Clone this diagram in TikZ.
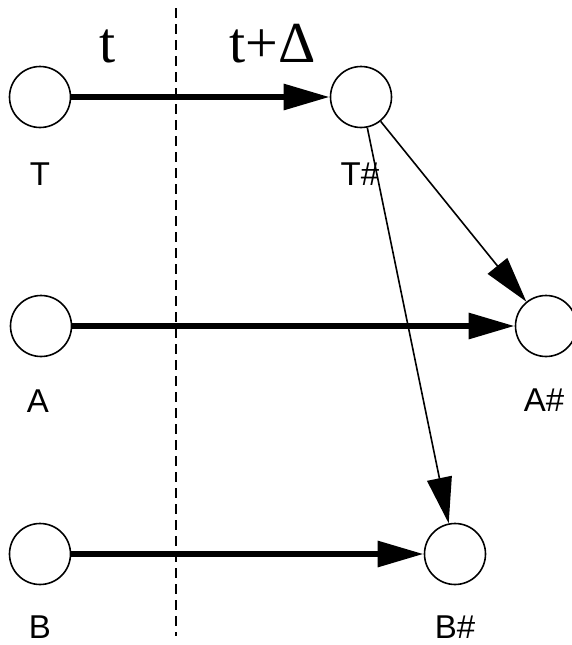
\documentclass[tikz,border=0pt]{standalone}
\usepackage{fontspec}
\newfontfamily\timefont{Liberation Serif}
\newfontfamily\labelfont{Liberation Sans}
\usetikzlibrary{arrows.meta,positioning}

\begin{document}
\begin{tikzpicture}[x=1pt,y=-1pt,
    state/.style={circle, draw, line width=1.6pt, minimum size=61pt, inner sep=0pt},
    lbl/.style={font=\labelfont\fontsize{33}{36}\selectfont, inner sep=0pt},
    stamp/.style={font=\timefont\fontsize{58}{62}\selectfont, inner sep=0pt},
    heavy/.style={line width=6pt, -{Triangle[length=46pt,width=25pt]}},
    light/.style={line width=1.6pt, -{Triangle[length=46pt,width=25pt]}}]
        \useasboundingbox (0,0) rectangle (571,645);
        % Time line
        \coordinate (top) at (176,8);
        \coordinate (bot) at (176,636);
        \draw[line width=1.6pt, dash pattern=on 10pt off 6pt] (top) -- (bot);
        \node[stamp, anchor=base] (now) at (108,62) {t};
        \node[stamp, anchor=base west] (later) at (229,62) {t+Δ};
        % States
        \node[state] (T) at (40,97) {};
        \node[state] (Th) at (361,97) {};
        \node[state] (A) at (41,326) {};
        \node[state] (Ah) at (546,326) {};
        \node[state] (B) at (40,554) {};
        \node[state] (Bh) at (455,554) {};
        % Labels
        \node[lbl] (lT) at (40,174) {T};
        \node[lbl] (lTh) at (360,174) {T\#};
        \node[lbl] (lA) at (38,401) {A};
        \node[lbl] (lAh) at (544,400) {A\#};
        \node[lbl] (lB) at (40,627) {B};
        \node[lbl] (lBh) at (455,627) {B\#};
        % Transitions
        \draw[heavy] (T) -- (Th);
        \draw[heavy] (A) -- (Ah);
        \draw[heavy] (B) -- (Bh);
        \draw[light] (Th) -- (Ah);
        \draw[light] (Th) -- (Bh);
\end{tikzpicture}
\end{document}
